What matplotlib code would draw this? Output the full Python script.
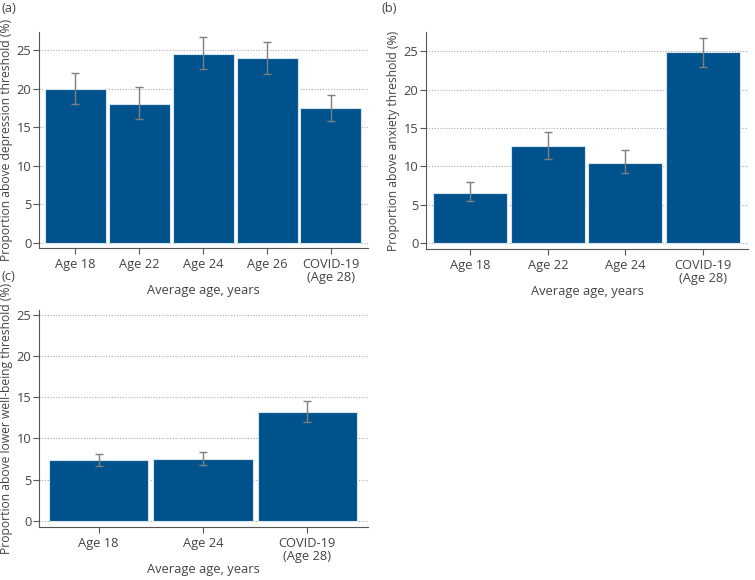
import matplotlib
matplotlib.use("Agg")
import matplotlib.pyplot as plt
import numpy as np

plt.rcParams['font.family'] = ['Open Sans', 'DejaVu Sans']

# Panel (a): depression
cats_a = ["Age 18", "Age 22", "Age 24", "Age 26", "COVID-19\n(Age 28)"]
vals_a = [20.0, 18.0, 24.6, 24.0, 17.5]
lo_a = [18.0, 16.1, 22.6, 22.0, 15.9]
hi_a = [22.1, 20.2, 26.7, 26.1, 19.2]

# Panel (b): anxiety
cats_b = ["Age 18", "Age 22", "Age 24", "COVID-19\n(Age 28)"]
vals_b = [6.6, 12.7, 10.5, 24.9]
lo_b = [5.5, 11.0, 9.2, 23.0]
hi_b = [8.0, 14.5, 12.1, 26.7]

# Panel (c): well-being
cats_c = ["Age 18", "Age 24", "COVID-19\n(Age 28)"]
vals_c = [7.35, 7.5, 13.25]
lo_c = [6.6, 6.8, 12.0]
hi_c = [8.1, 8.35, 14.5]

yticks = [0, 5, 10, 15, 20, 25]

BAR = "#00528c"
EDGE = "#d6e4ef"
ERR = "#7f7f7f"
TXT = "#444444"
SPINE = "#555555"
FS = 9.3
FSY = 8.7

W, H = 755, 580
fig = plt.figure(figsize=(W / 100, H / 100), dpi=100)


def px_axes(left, right, top, bottom):
    return fig.add_axes([left / W, 1 - bottom / H, (right - left) / W, (bottom - top) / H])


def panel(ax, cats, vals, lo, hi, ylabel, ylim):
    x = np.arange(len(cats))
    vals = np.array(vals)
    err = np.array([vals - np.array(lo), np.array(hi) - vals])
    ax.bar(x, vals, width=0.955, color=BAR, edgecolor=EDGE, linewidth=0.8, zorder=2)
    ax.errorbar(x, vals, yerr=err, fmt='none', ecolor=ERR, elinewidth=1.0,
                capsize=3.0, capthick=1.0, zorder=3)
    ax.set_xlim(-0.57, len(cats) - 1 + 0.58)
    ax.set_ylim(*ylim)
    ax.set_yticks(yticks)
    ax.set_xticks(x)
    ax.set_xticklabels(cats, fontsize=FS, color=TXT, linespacing=1.0)
    ax.tick_params(axis='y', labelsize=FS, labelcolor=TXT, color=SPINE, length=4, width=0.8, pad=1.5)
    ax.tick_params(axis='x', color=SPINE, length=4, width=0.8, pad=3)
    for s in ['top', 'right']:
        ax.spines[s].set_visible(False)
    for s in ['left', 'bottom']:
        ax.spines[s].set_color(SPINE)
        ax.spines[s].set_linewidth(0.8)
    ax.yaxis.grid(True, linestyle=(0, (1, 1.5)), color='#aaaaaa', linewidth=0.8, zorder=0)
    ax.set_axisbelow(True)
    ax.set_ylabel(ylabel, fontsize=FSY, color=TXT, labelpad=2.5)
    ax.set_xlabel("Average age, years", fontsize=FS, color=TXT, labelpad=0)


ax_a = px_axes(39, 368, 32, 248)
panel(ax_a, cats_a, vals_a, lo_a, hi_a, "Proportion above depression threshold (%)", (-0.65, 27.4))

ax_b = px_axes(426, 748, 32, 249)
panel(ax_b, cats_b, vals_b, lo_b, hi_b, "Proportion above anxiety threshold (%)", (-0.75, 27.5))

ax_c = px_axes(39, 368, 310, 527)
panel(ax_c, cats_c, vals_c, lo_c, hi_c, "Proportion above lower well-being threshold (%)", (-0.77, 25.6))

fig.text(2 / W, 1 - 8 / H, "(a)", fontsize=FS, color=TXT, va='center', ha='left')
fig.text(382 / W, 1 - 8 / H, "(b)", fontsize=FS, color=TXT, va='center', ha='left')
fig.text(2 / W, 1 - 277 / H, "(c)", fontsize=FS, color=TXT, va='center', ha='left')

fig.savefig("out.png", dpi=100)
